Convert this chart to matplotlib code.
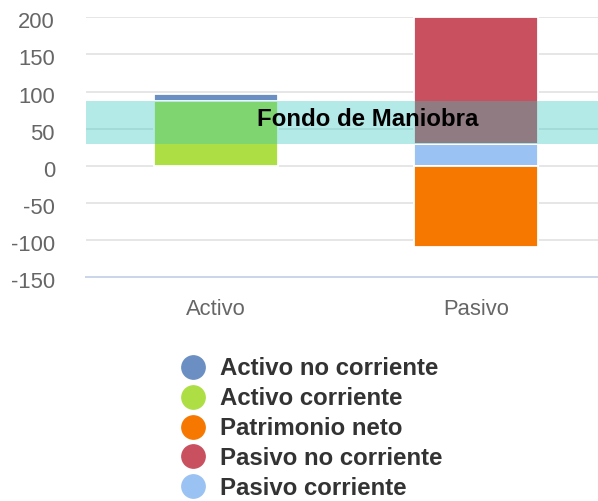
import matplotlib
matplotlib.use('Agg')
import matplotlib.pyplot as plt
import matplotlib.transforms as mtransforms
from matplotlib.lines import Line2D
import numpy as np

plt.rcParams['font.family'] = ['Liberation Sans', 'DejaVu Sans']

# Data
categories = ['Activo', 'Pasivo']
series_names = ['Activo no corriente', 'Activo corriente', 'Patrimonio neto',
                'Pasivo no corriente', 'Pasivo corriente']
activo_no_corriente = [9, 0]
activo_corriente = [88, 0]
patrimonio_neto = [0, -109]
pasivo_no_corriente = [0, 171]
pasivo_corriente = [0, 29]
series_values = [activo_no_corriente, activo_corriente, patrimonio_neto,
                 pasivo_no_corriente, pasivo_corriente]
colors = ['#6b8fc2', '#addf45', '#f77800', '#c9505f', '#9ac2f2']
y_ticks = [-150, -100, -50, 0, 50, 100, 150, 200]

fig = plt.figure(figsize=(5.98, 5.01), dpi=100)
ax = fig.add_axes([86 / 598, 1 - 277.3 / 501, 1 - 86 / 598, (277.3 - 17.3) / 501])

x = np.arange(len(categories))
bar_width = 0.477

# stack like Highcharts: last series at the bottom
pos_bottom = np.zeros(len(categories))
neg_bottom = np.zeros(len(categories))
for name, vals, col in reversed(list(zip(series_names, series_values, colors))):
    vals = np.array(vals, dtype=float)
    for i, v in enumerate(vals):
        if v == 0:
            continue
        if v > 0:
            b = pos_bottom[i]
            pos_bottom[i] += v
        else:
            b = neg_bottom[i]
            neg_bottom[i] += v
        ax.bar(x[i], v, bottom=b, width=bar_width, color=col,
               edgecolor='white', linewidth=1.3, zorder=2)

# Fondo de maniobra band
band_low = pasivo_corriente[1]
band_high = activo_corriente[0]
ax.axhspan(band_low, band_high, color=(47 / 255, 200 / 255, 192 / 255),
           alpha=0.366, linewidth=0, zorder=3)
ax.text(0.585, 53.5, 'Fondo de Maniobra', ha='center', va='baseline',
        fontsize=17.28, fontweight='bold', color='black', zorder=4)

# Axes styling
ax.set_xlim(-0.5, 1.469)
ax.set_ylim(-150, 200)
ax.set_yticks(y_ticks)
ax.set_yticklabels([str(t) for t in y_ticks])
ax.set_xticks(x)
ax.set_xticklabels(categories)
for t in y_ticks[1:]:
    ax.axhline(t, color='#e6e6e6', linewidth=1.44, zorder=1)
for s in ['top', 'right', 'left']:
    ax.spines[s].set_visible(False)
ax.spines['bottom'].set_color('#ccd6eb')
ax.spines['bottom'].set_linewidth(1.44)
ax.tick_params(axis='y', length=0, pad=22.3, labelsize=15.84, labelcolor='#666666')
ax.tick_params(axis='x', length=0, pad=15.7, labelsize=15.84, labelcolor='#666666')
offset = mtransforms.ScaledTranslation(0, -3 / 100, fig.dpi_scale_trans)
for lab in ax.get_yticklabels():
    lab.set_transform(lab.get_transform() + offset)

# Legend
handles = [Line2D([], [], marker='o', linestyle='', markersize=16.8,
                  markerfacecolor=c, markeredgecolor=c) for c in colors]
leg = fig.legend(handles, series_names, loc='upper left',
                 bbox_to_anchor=(181.3 / 598, 1 - 357 / 501),
                 frameon=False, borderaxespad=0, borderpad=0,
                 handlelength=1.0, handletextpad=0.61, labelspacing=0.29,
                 prop={'size': 17.28, 'weight': 'bold'})
for t in leg.get_texts():
    t.set_color('#333333')

plt.savefig('out.png', dpi=100)
